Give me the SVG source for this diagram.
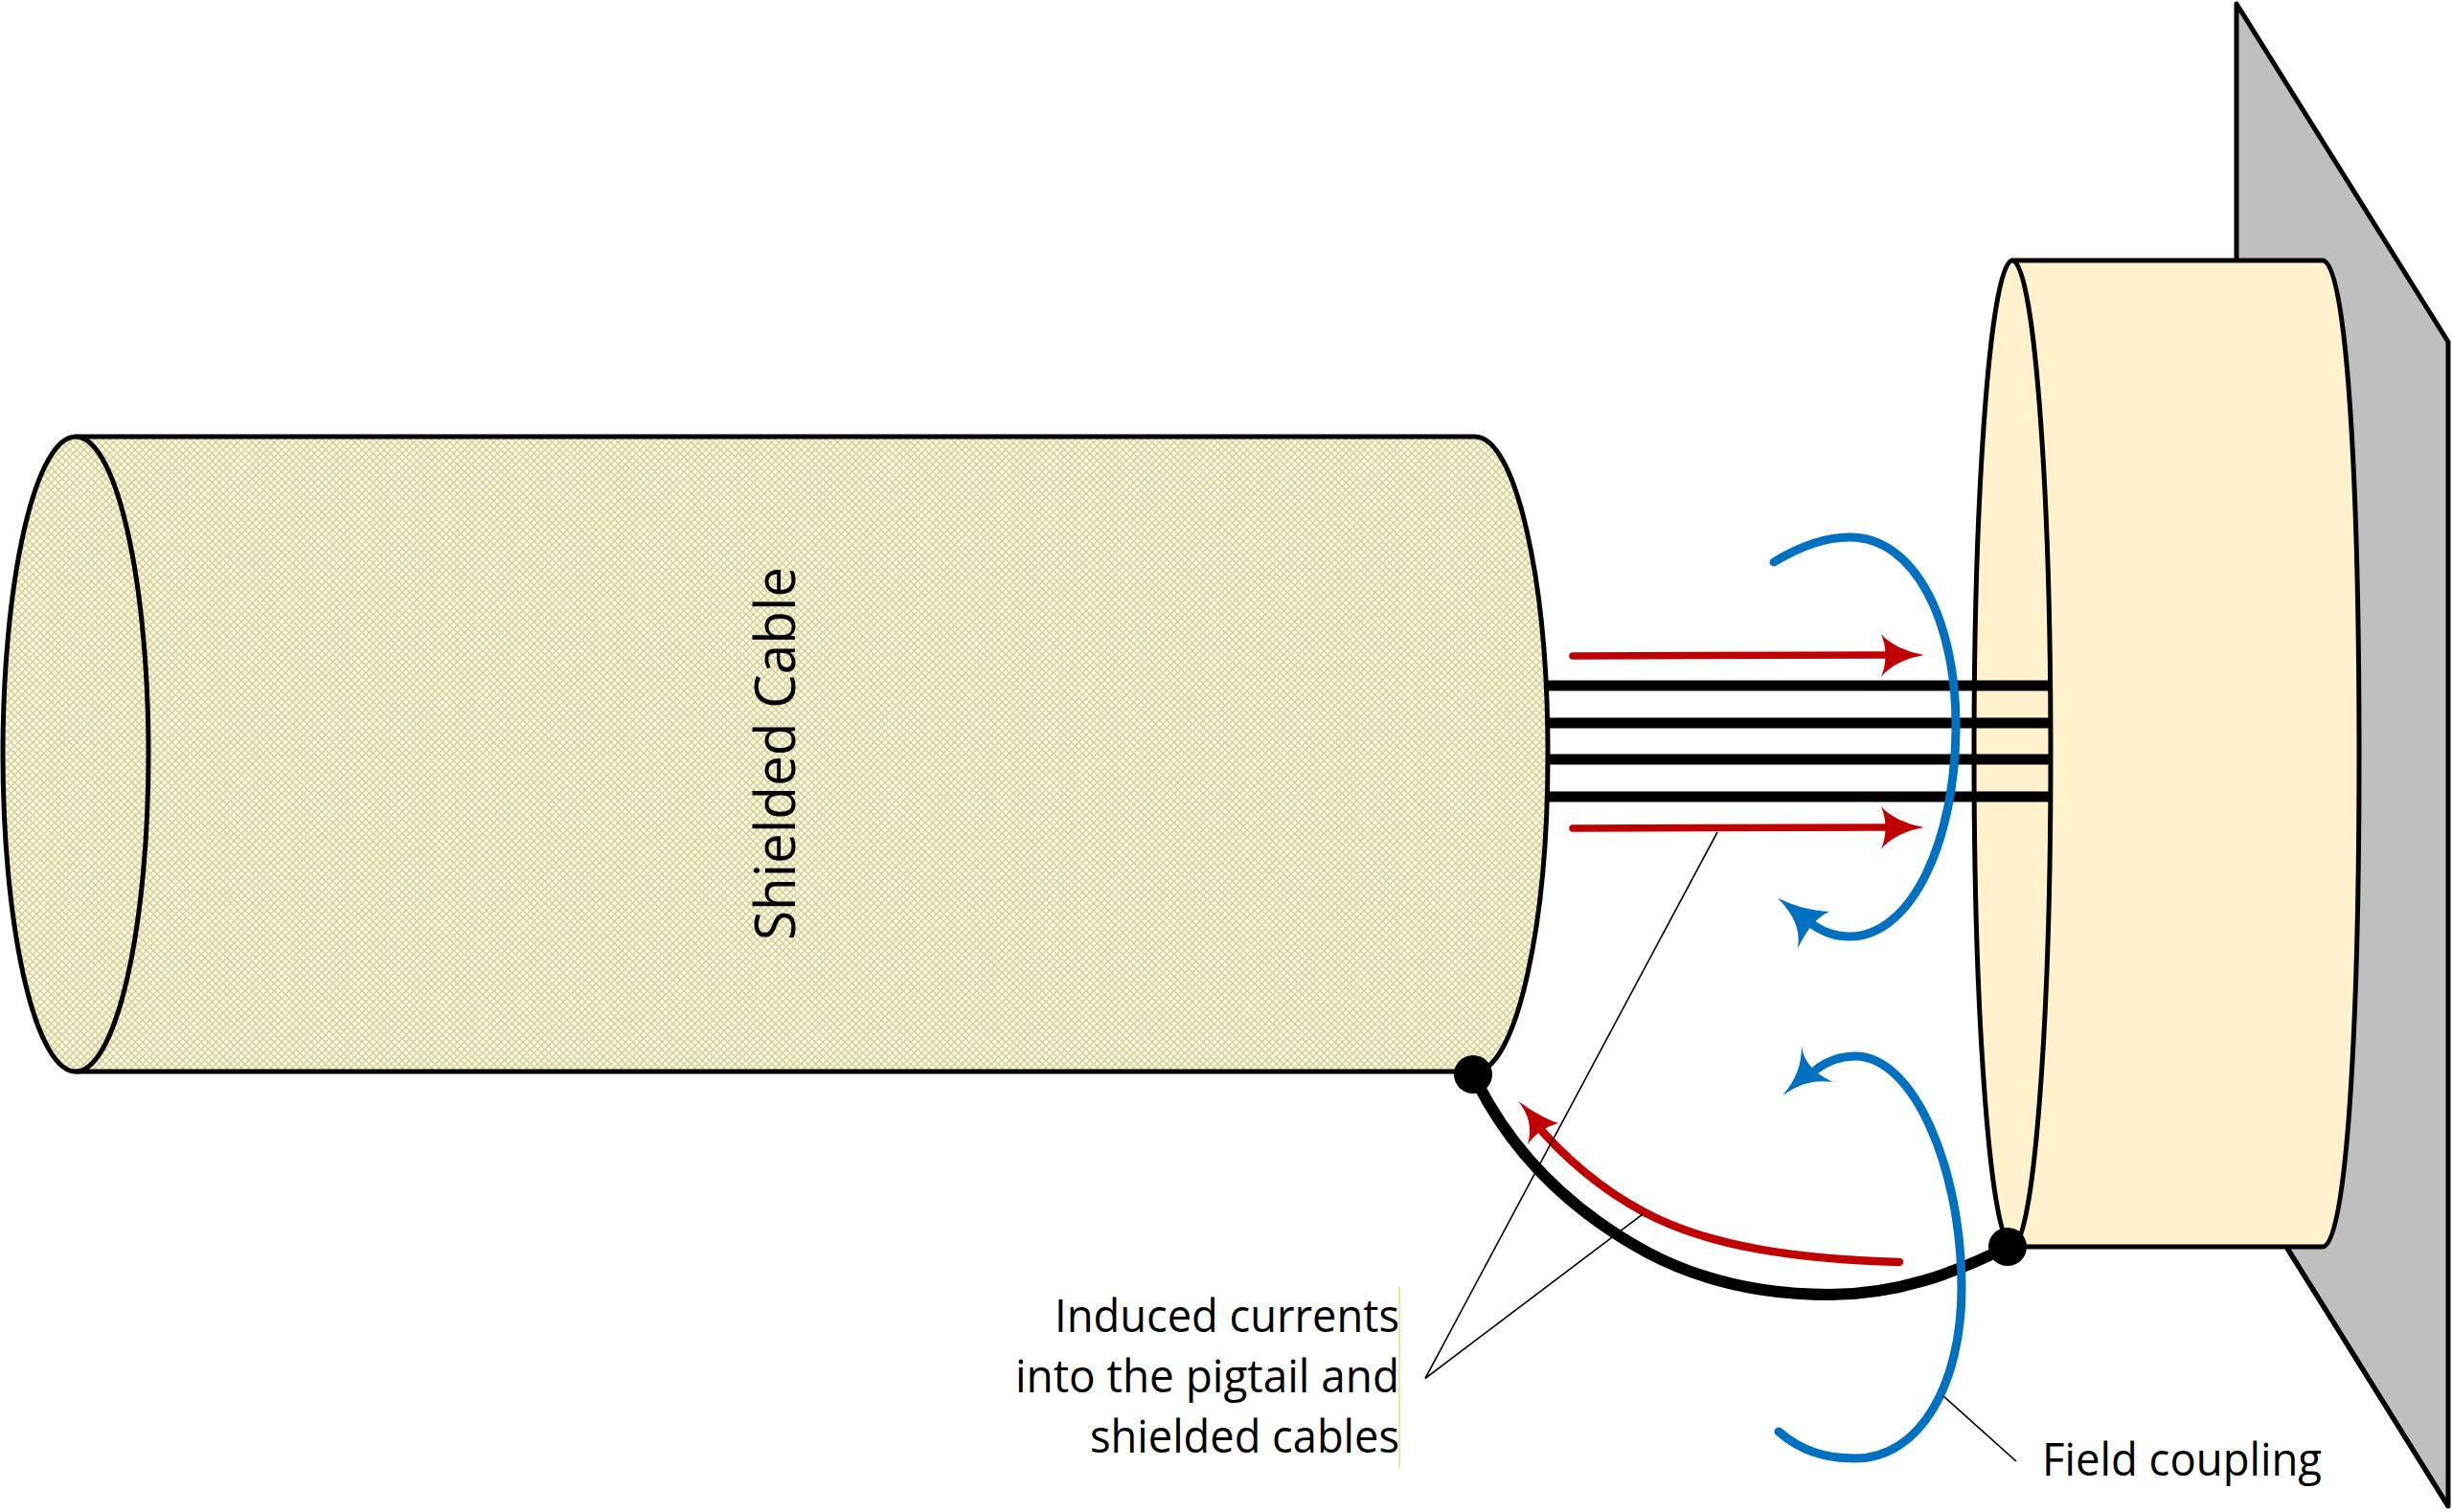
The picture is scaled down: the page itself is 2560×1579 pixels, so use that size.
<svg xmlns="http://www.w3.org/2000/svg" width="2560" height="1579" viewBox="0 0 2560 1579">
<style>
.o{stroke:#000;stroke-width:5;stroke-linejoin:round}
.t{fill:#000;font-family:"Open Sans","Noto Sans",sans-serif;font-size:48px}
.w{stroke:#000;stroke-width:11;fill:none}
.r{stroke:#c00000;stroke-width:7.500;fill:none;stroke-linecap:round}
.b{stroke:#0070c0;stroke-width:9;fill:none;stroke-linecap:round}
.rh{fill:#c00000}
.bh{fill:#0070c0}
.l{stroke:#000;stroke-width:1.6;fill:none}
</style>
<defs>
<pattern id="mesh" width="5.4" height="5.4" patternUnits="userSpaceOnUse" patternTransform="rotate(45)">
<rect width="5.4" height="5.4" fill="#d6d09a"/>
<rect x="0.8" y="0.8" width="3.8" height="3.8" fill="#fffde8"/>
</pattern>
</defs>
<rect width="2560" height="1579" fill="#fff"/>
<g id="panel"><path class="o" fill="#bfbfbf" d="M2335 4L2556 357V1573L2335 1218Z"/></g>
<rect x="2100" y="1304" width="280" height="270" fill="#fff"/>
<path d="M2388 1304L2556 1573" stroke="#000" stroke-width="5" fill="none"/>
<g id="connector-block">
<path class="o" fill="#fff2cc" d="M2101 272H2425C2450 272 2463 502 2463 787S2450 1302 2425 1302H2101Z"/>
<ellipse class="o" fill="#fff2cc" cx="2101" cy="787" rx="40" ry="515"/>
</g>
<g id="shielded-cable">
<path fill="url(#mesh)" d="M79 456H1540C1582 456 1616 604 1616 787.500S1582 1119 1540 1119H79C37 1119 3 971 3 787.500S37 456 79 456Z"/>
<path class="o" fill="none" d="M79 456H1540C1582 456 1616 604 1616 787.500S1582 1119 1540 1119H79"/>
<ellipse class="o" fill="none" cx="79" cy="787.500" rx="76" ry="331.500"/>
<text class="t" id="cable-label" transform="translate(830 982) rotate(-90)" style="font-size:58px" textLength="390" lengthAdjust="spacingAndGlyphs">Shielded Cable</text>
</g>
<g id="connectors">
<path class="w" d="M1615 716H2142M1615 755H2142M1615 793H2142M1615 832H2142"/>
<path d="M1542 1130C1585 1215 1650 1270 1720 1308C1790 1345 1860 1352 1910 1352C1980 1352 2040 1330 2096 1302" stroke="#000" stroke-width="12" fill="none"/>
<path class="r" d="M1642 685L1975 684"/>
<path class="rh" d="M2009 684C1990 687 1972 696 1964 707C1970 692 1970 677 1964 662C1972 672 1990 681 2009 684Z"/>
<path class="r" d="M1642 865L1975 864"/>
<path class="rh" d="M2009 864C1990 867 1972 876 1964 887C1970 872 1970 857 1964 842C1972 852 1990 861 2009 864Z"/>
<path class="r" style="stroke-width:8.500" d="M1983 1318C1880 1315 1785 1303 1715 1265C1672 1242 1632 1208 1603 1173"/>
<path class="rh" d="M1585 1150C1598 1159 1612 1168 1627 1173C1613 1177 1603 1184 1595 1195C1600 1178 1596 1163 1585 1150Z"/>
<path class="b" d="M1852 587C1880 570 1905 561 1931 561C2000 561 2042 650 2042 757C2042 880 1995 978 1931 978C1915 978 1900 972 1888 962"/>
<path class="bh" d="M1856 938C1874 946 1890 951 1910 952C1895 959 1887 971 1877 990C1880 971 1873 955 1856 938Z"/>
<path class="b" d="M1896 1117C1908 1108 1922 1103 1937 1103C1998 1103 2048 1220 2048 1345C2048 1445 2005 1523 1937 1523C1905 1523 1880 1515 1857 1495"/>
<path class="bh" d="M1881 1092C1883 1110 1896 1122 1914 1130C1893 1127 1878 1132 1861 1144C1875 1128 1881 1112 1881 1092Z"/>
<path class="l" d="M1793 869L1488 1439.500L1715 1268"/>
<path class="l" d="M2029 1458L2105 1526"/>
<path d="M1461 1344V1533" stroke="#dcdc96" stroke-width="1.500" fill="none"/>
</g>
<g id="junction-cable"><circle cx="1538" cy="1122" r="20"/></g>
<g id="junction-block"><circle cx="2096" cy="1302" r="20"/></g>
<g id="label-currents">
<text class="t" x="1101" y="1391" textLength="360" lengthAdjust="spacingAndGlyphs">Induced currents</text>
<text class="t" x="1060" y="1454" textLength="401" lengthAdjust="spacingAndGlyphs">into the pigtail and</text>
<text class="t" x="1138" y="1517" textLength="323" lengthAdjust="spacingAndGlyphs">shielded cables</text>
</g>
<g id="label-field">
<text class="t" x="2132" y="1541" textLength="292" lengthAdjust="spacingAndGlyphs">Field coupling</text>
</g>
</svg>
